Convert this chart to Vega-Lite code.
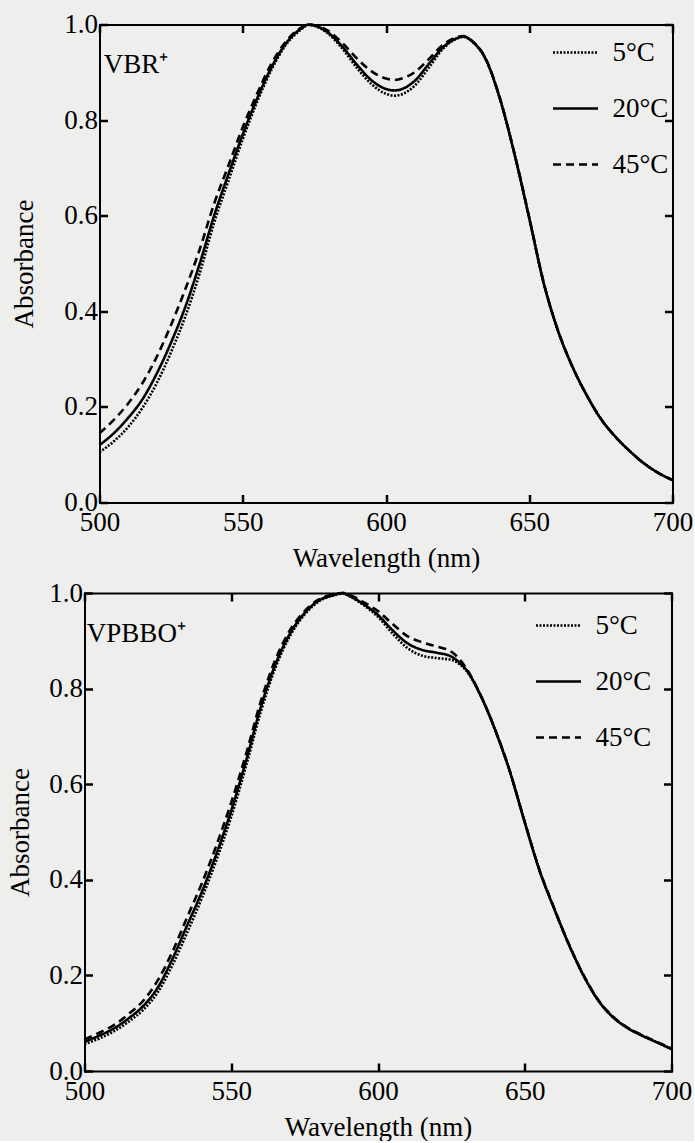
{
  "$schema": "https://vega.github.io/schema/vega-lite/v6.json",
  "background": "#eeeeec",
  "padding": {"left": 6.5, "top": 10.5, "right": 0, "bottom": 0},
  "spacing": 7.5,
  "config": {
    "view": {"stroke": null},
    "axis": {
      "labelFont": "Liberation Serif", "titleFont": "Liberation Serif",
      "labelFontSize": 27, "titleFontSize": 27, "titleFontWeight": "normal",
      "labelColor": "black", "titleColor": "black",
      "tickColor": "black", "tickWidth": 2.5, "tickSize": -8,
      "domain": true, "domainColor": "black", "domainWidth": 2, "domainCap": "square",
      "grid": false, "labelFlush": false, "labelOverlap": false
    },
    "legend": {
      "labelFont": "Liberation Serif", "labelFontSize": 27, "labelColor": "black",
      "symbolType": "stroke", "symbolSize": 2025, "symbolStrokeWidth": 2.5,
      "symbolStrokeColor": "black", "rowPadding": 19, "labelOffset": 13, "padding": 0
    }
  },
  "datasets": {
    "vbrLabel": [{"label": "VBR⁺", "wl": 501.5, "abs": 0.899}],
    "vpbboLabel": [{"label": "VPBBO⁺", "wl": 500.8, "abs": 0.897}],
    "vbr": [
      {"temp": "5°C", "wl": 500, "abs": 0.105}, {"temp": "5°C", "wl": 505, "abs": 0.128}, {"temp": "5°C", "wl": 510, "abs": 0.158}, {"temp": "5°C", "wl": 515, "abs": 0.198}, {"temp": "5°C", "wl": 520, "abs": 0.25}, {"temp": "5°C", "wl": 525, "abs": 0.315}, {"temp": "5°C", "wl": 530, "abs": 0.39}, {"temp": "5°C", "wl": 535, "abs": 0.48}, {"temp": "5°C", "wl": 540, "abs": 0.585}, {"temp": "5°C", "wl": 545, "abs": 0.673}, {"temp": "5°C", "wl": 550, "abs": 0.76}, {"temp": "5°C", "wl": 555, "abs": 0.838}, {"temp": "5°C", "wl": 560, "abs": 0.905}, {"temp": "5°C", "wl": 565, "abs": 0.957}, {"temp": "5°C", "wl": 570, "abs": 0.988}, {"temp": "5°C", "wl": 573, "abs": 0.999}, {"temp": "5°C", "wl": 576, "abs": 0.995}, {"temp": "5°C", "wl": 580, "abs": 0.98}, {"temp": "5°C", "wl": 585, "abs": 0.948}, {"temp": "5°C", "wl": 590, "abs": 0.908}, {"temp": "5°C", "wl": 595, "abs": 0.875}, {"temp": "5°C", "wl": 600, "abs": 0.855}, {"temp": "5°C", "wl": 603, "abs": 0.851}, {"temp": "5°C", "wl": 606, "abs": 0.855}, {"temp": "5°C", "wl": 610, "abs": 0.872}, {"temp": "5°C", "wl": 615, "abs": 0.91}, {"temp": "5°C", "wl": 620, "abs": 0.95}, {"temp": "5°C", "wl": 625, "abs": 0.971}, {"temp": "5°C", "wl": 627, "abs": 0.974}, {"temp": "5°C", "wl": 630, "abs": 0.965}, {"temp": "5°C", "wl": 635, "abs": 0.925}, {"temp": "5°C", "wl": 640, "abs": 0.84}, {"temp": "5°C", "wl": 645, "abs": 0.725}, {"temp": "5°C", "wl": 650, "abs": 0.595}, {"temp": "5°C", "wl": 655, "abs": 0.46}, {"temp": "5°C", "wl": 660, "abs": 0.36}, {"temp": "5°C", "wl": 665, "abs": 0.285}, {"temp": "5°C", "wl": 670, "abs": 0.225}, {"temp": "5°C", "wl": 675, "abs": 0.175}, {"temp": "5°C", "wl": 680, "abs": 0.138}, {"temp": "5°C", "wl": 685, "abs": 0.108}, {"temp": "5°C", "wl": 690, "abs": 0.082}, {"temp": "5°C", "wl": 695, "abs": 0.062}, {"temp": "5°C", "wl": 700, "abs": 0.047},
      {"temp": "20°C", "wl": 500, "abs": 0.12}, {"temp": "20°C", "wl": 505, "abs": 0.145}, {"temp": "20°C", "wl": 510, "abs": 0.177}, {"temp": "20°C", "wl": 515, "abs": 0.216}, {"temp": "20°C", "wl": 520, "abs": 0.27}, {"temp": "20°C", "wl": 525, "abs": 0.335}, {"temp": "20°C", "wl": 530, "abs": 0.41}, {"temp": "20°C", "wl": 535, "abs": 0.5}, {"temp": "20°C", "wl": 540, "abs": 0.6}, {"temp": "20°C", "wl": 545, "abs": 0.687}, {"temp": "20°C", "wl": 550, "abs": 0.77}, {"temp": "20°C", "wl": 555, "abs": 0.845}, {"temp": "20°C", "wl": 560, "abs": 0.91}, {"temp": "20°C", "wl": 565, "abs": 0.96}, {"temp": "20°C", "wl": 570, "abs": 0.99}, {"temp": "20°C", "wl": 573, "abs": 1.0}, {"temp": "20°C", "wl": 576, "abs": 0.996}, {"temp": "20°C", "wl": 580, "abs": 0.982}, {"temp": "20°C", "wl": 585, "abs": 0.952}, {"temp": "20°C", "wl": 590, "abs": 0.915}, {"temp": "20°C", "wl": 595, "abs": 0.883}, {"temp": "20°C", "wl": 600, "abs": 0.865}, {"temp": "20°C", "wl": 603, "abs": 0.862}, {"temp": "20°C", "wl": 606, "abs": 0.866}, {"temp": "20°C", "wl": 610, "abs": 0.882}, {"temp": "20°C", "wl": 615, "abs": 0.918}, {"temp": "20°C", "wl": 620, "abs": 0.953}, {"temp": "20°C", "wl": 625, "abs": 0.972}, {"temp": "20°C", "wl": 627, "abs": 0.975}, {"temp": "20°C", "wl": 630, "abs": 0.965}, {"temp": "20°C", "wl": 635, "abs": 0.925}, {"temp": "20°C", "wl": 640, "abs": 0.84}, {"temp": "20°C", "wl": 645, "abs": 0.725}, {"temp": "20°C", "wl": 650, "abs": 0.595}, {"temp": "20°C", "wl": 655, "abs": 0.46}, {"temp": "20°C", "wl": 660, "abs": 0.36}, {"temp": "20°C", "wl": 665, "abs": 0.285}, {"temp": "20°C", "wl": 670, "abs": 0.225}, {"temp": "20°C", "wl": 675, "abs": 0.175}, {"temp": "20°C", "wl": 680, "abs": 0.138}, {"temp": "20°C", "wl": 685, "abs": 0.108}, {"temp": "20°C", "wl": 690, "abs": 0.082}, {"temp": "20°C", "wl": 695, "abs": 0.062}, {"temp": "20°C", "wl": 700, "abs": 0.047},
      {"temp": "45°C", "wl": 500, "abs": 0.145}, {"temp": "45°C", "wl": 505, "abs": 0.173}, {"temp": "45°C", "wl": 510, "abs": 0.207}, {"temp": "45°C", "wl": 515, "abs": 0.25}, {"temp": "45°C", "wl": 520, "abs": 0.305}, {"temp": "45°C", "wl": 525, "abs": 0.372}, {"temp": "45°C", "wl": 530, "abs": 0.447}, {"temp": "45°C", "wl": 535, "abs": 0.53}, {"temp": "45°C", "wl": 540, "abs": 0.625}, {"temp": "45°C", "wl": 545, "abs": 0.705}, {"temp": "45°C", "wl": 550, "abs": 0.785}, {"temp": "45°C", "wl": 555, "abs": 0.855}, {"temp": "45°C", "wl": 560, "abs": 0.918}, {"temp": "45°C", "wl": 565, "abs": 0.964}, {"temp": "45°C", "wl": 570, "abs": 0.992}, {"temp": "45°C", "wl": 573, "abs": 1.0}, {"temp": "45°C", "wl": 576, "abs": 0.997}, {"temp": "45°C", "wl": 580, "abs": 0.986}, {"temp": "45°C", "wl": 585, "abs": 0.96}, {"temp": "45°C", "wl": 590, "abs": 0.928}, {"temp": "45°C", "wl": 595, "abs": 0.902}, {"temp": "45°C", "wl": 600, "abs": 0.887}, {"temp": "45°C", "wl": 603, "abs": 0.884}, {"temp": "45°C", "wl": 606, "abs": 0.888}, {"temp": "45°C", "wl": 610, "abs": 0.9}, {"temp": "45°C", "wl": 615, "abs": 0.928}, {"temp": "45°C", "wl": 620, "abs": 0.958}, {"temp": "45°C", "wl": 625, "abs": 0.974}, {"temp": "45°C", "wl": 627, "abs": 0.976}, {"temp": "45°C", "wl": 630, "abs": 0.966}, {"temp": "45°C", "wl": 635, "abs": 0.926}, {"temp": "45°C", "wl": 640, "abs": 0.841}, {"temp": "45°C", "wl": 645, "abs": 0.726}, {"temp": "45°C", "wl": 650, "abs": 0.596}, {"temp": "45°C", "wl": 655, "abs": 0.461}, {"temp": "45°C", "wl": 660, "abs": 0.36}, {"temp": "45°C", "wl": 665, "abs": 0.285}, {"temp": "45°C", "wl": 670, "abs": 0.225}, {"temp": "45°C", "wl": 675, "abs": 0.175}, {"temp": "45°C", "wl": 680, "abs": 0.138}, {"temp": "45°C", "wl": 685, "abs": 0.108}, {"temp": "45°C", "wl": 690, "abs": 0.082}, {"temp": "45°C", "wl": 695, "abs": 0.062}, {"temp": "45°C", "wl": 700, "abs": 0.047}
    ],
    "vpbbo": [
      {"temp": "5°C", "wl": 500, "abs": 0.056}, {"temp": "5°C", "wl": 505, "abs": 0.068}, {"temp": "5°C", "wl": 510, "abs": 0.083}, {"temp": "5°C", "wl": 515, "abs": 0.103}, {"temp": "5°C", "wl": 520, "abs": 0.128}, {"temp": "5°C", "wl": 525, "abs": 0.165}, {"temp": "5°C", "wl": 530, "abs": 0.222}, {"temp": "5°C", "wl": 535, "abs": 0.29}, {"temp": "5°C", "wl": 540, "abs": 0.362}, {"temp": "5°C", "wl": 545, "abs": 0.442}, {"temp": "5°C", "wl": 550, "abs": 0.532}, {"temp": "5°C", "wl": 555, "abs": 0.637}, {"temp": "5°C", "wl": 560, "abs": 0.75}, {"temp": "5°C", "wl": 565, "abs": 0.843}, {"temp": "5°C", "wl": 570, "abs": 0.91}, {"temp": "5°C", "wl": 575, "abs": 0.955}, {"temp": "5°C", "wl": 580, "abs": 0.983}, {"temp": "5°C", "wl": 585, "abs": 0.995}, {"temp": "5°C", "wl": 588, "abs": 0.999}, {"temp": "5°C", "wl": 590, "abs": 0.994}, {"temp": "5°C", "wl": 595, "abs": 0.975}, {"temp": "5°C", "wl": 600, "abs": 0.95}, {"temp": "5°C", "wl": 605, "abs": 0.915}, {"temp": "5°C", "wl": 610, "abs": 0.885}, {"temp": "5°C", "wl": 615, "abs": 0.869}, {"temp": "5°C", "wl": 620, "abs": 0.864}, {"temp": "5°C", "wl": 625, "abs": 0.86}, {"temp": "5°C", "wl": 628, "abs": 0.85}, {"temp": "5°C", "wl": 630, "abs": 0.838}, {"temp": "5°C", "wl": 635, "abs": 0.785}, {"temp": "5°C", "wl": 640, "abs": 0.712}, {"temp": "5°C", "wl": 645, "abs": 0.625}, {"temp": "5°C", "wl": 650, "abs": 0.52}, {"temp": "5°C", "wl": 655, "abs": 0.42}, {"temp": "5°C", "wl": 660, "abs": 0.34}, {"temp": "5°C", "wl": 665, "abs": 0.265}, {"temp": "5°C", "wl": 670, "abs": 0.2}, {"temp": "5°C", "wl": 675, "abs": 0.148}, {"temp": "5°C", "wl": 680, "abs": 0.113}, {"temp": "5°C", "wl": 685, "abs": 0.09}, {"temp": "5°C", "wl": 690, "abs": 0.074}, {"temp": "5°C", "wl": 695, "abs": 0.06}, {"temp": "5°C", "wl": 700, "abs": 0.046},
      {"temp": "20°C", "wl": 500, "abs": 0.061}, {"temp": "20°C", "wl": 505, "abs": 0.074}, {"temp": "20°C", "wl": 510, "abs": 0.089}, {"temp": "20°C", "wl": 515, "abs": 0.11}, {"temp": "20°C", "wl": 520, "abs": 0.136}, {"temp": "20°C", "wl": 525, "abs": 0.175}, {"temp": "20°C", "wl": 530, "abs": 0.235}, {"temp": "20°C", "wl": 535, "abs": 0.305}, {"temp": "20°C", "wl": 540, "abs": 0.375}, {"temp": "20°C", "wl": 545, "abs": 0.455}, {"temp": "20°C", "wl": 550, "abs": 0.545}, {"temp": "20°C", "wl": 555, "abs": 0.648}, {"temp": "20°C", "wl": 560, "abs": 0.76}, {"temp": "20°C", "wl": 565, "abs": 0.85}, {"temp": "20°C", "wl": 570, "abs": 0.915}, {"temp": "20°C", "wl": 575, "abs": 0.958}, {"temp": "20°C", "wl": 580, "abs": 0.985}, {"temp": "20°C", "wl": 585, "abs": 0.996}, {"temp": "20°C", "wl": 588, "abs": 1.0}, {"temp": "20°C", "wl": 590, "abs": 0.995}, {"temp": "20°C", "wl": 595, "abs": 0.977}, {"temp": "20°C", "wl": 600, "abs": 0.954}, {"temp": "20°C", "wl": 605, "abs": 0.922}, {"temp": "20°C", "wl": 610, "abs": 0.895}, {"temp": "20°C", "wl": 615, "abs": 0.881}, {"temp": "20°C", "wl": 620, "abs": 0.875}, {"temp": "20°C", "wl": 625, "abs": 0.867}, {"temp": "20°C", "wl": 628, "abs": 0.853}, {"temp": "20°C", "wl": 630, "abs": 0.84}, {"temp": "20°C", "wl": 635, "abs": 0.785}, {"temp": "20°C", "wl": 640, "abs": 0.712}, {"temp": "20°C", "wl": 645, "abs": 0.625}, {"temp": "20°C", "wl": 650, "abs": 0.52}, {"temp": "20°C", "wl": 655, "abs": 0.42}, {"temp": "20°C", "wl": 660, "abs": 0.34}, {"temp": "20°C", "wl": 665, "abs": 0.265}, {"temp": "20°C", "wl": 670, "abs": 0.2}, {"temp": "20°C", "wl": 675, "abs": 0.148}, {"temp": "20°C", "wl": 680, "abs": 0.113}, {"temp": "20°C", "wl": 685, "abs": 0.09}, {"temp": "20°C", "wl": 690, "abs": 0.074}, {"temp": "20°C", "wl": 695, "abs": 0.06}, {"temp": "20°C", "wl": 700, "abs": 0.046},
      {"temp": "45°C", "wl": 500, "abs": 0.066}, {"temp": "45°C", "wl": 505, "abs": 0.08}, {"temp": "45°C", "wl": 510, "abs": 0.096}, {"temp": "45°C", "wl": 515, "abs": 0.119}, {"temp": "45°C", "wl": 520, "abs": 0.147}, {"temp": "45°C", "wl": 525, "abs": 0.19}, {"temp": "45°C", "wl": 530, "abs": 0.25}, {"temp": "45°C", "wl": 535, "abs": 0.322}, {"temp": "45°C", "wl": 540, "abs": 0.393}, {"temp": "45°C", "wl": 545, "abs": 0.473}, {"temp": "45°C", "wl": 550, "abs": 0.562}, {"temp": "45°C", "wl": 555, "abs": 0.662}, {"temp": "45°C", "wl": 560, "abs": 0.772}, {"temp": "45°C", "wl": 565, "abs": 0.86}, {"temp": "45°C", "wl": 570, "abs": 0.922}, {"temp": "45°C", "wl": 575, "abs": 0.962}, {"temp": "45°C", "wl": 580, "abs": 0.987}, {"temp": "45°C", "wl": 585, "abs": 0.997}, {"temp": "45°C", "wl": 588, "abs": 1.0}, {"temp": "45°C", "wl": 590, "abs": 0.997}, {"temp": "45°C", "wl": 595, "abs": 0.981}, {"temp": "45°C", "wl": 600, "abs": 0.962}, {"temp": "45°C", "wl": 605, "abs": 0.935}, {"temp": "45°C", "wl": 610, "abs": 0.91}, {"temp": "45°C", "wl": 615, "abs": 0.897}, {"temp": "45°C", "wl": 620, "abs": 0.888}, {"temp": "45°C", "wl": 625, "abs": 0.877}, {"temp": "45°C", "wl": 628, "abs": 0.86}, {"temp": "45°C", "wl": 630, "abs": 0.843}, {"temp": "45°C", "wl": 635, "abs": 0.786}, {"temp": "45°C", "wl": 640, "abs": 0.713}, {"temp": "45°C", "wl": 645, "abs": 0.626}, {"temp": "45°C", "wl": 650, "abs": 0.521}, {"temp": "45°C", "wl": 655, "abs": 0.421}, {"temp": "45°C", "wl": 660, "abs": 0.341}, {"temp": "45°C", "wl": 665, "abs": 0.266}, {"temp": "45°C", "wl": 670, "abs": 0.201}, {"temp": "45°C", "wl": 675, "abs": 0.149}, {"temp": "45°C", "wl": 680, "abs": 0.114}, {"temp": "45°C", "wl": 685, "abs": 0.091}, {"temp": "45°C", "wl": 690, "abs": 0.075}, {"temp": "45°C", "wl": 695, "abs": 0.061}, {"temp": "45°C", "wl": 700, "abs": 0.047}
    ]
  },
  "resolve": {"scale": {"strokeDash": "independent"}, "legend": {"strokeDash": "independent"}},
  "vconcat": [
    {
      "width": 588, "height": 478,
      "resolve": {"axis": {"x": "independent", "y": "independent"}},
      "layer": [
        {
          "data": {"name": "vbr"},
          "mark": {"type": "line", "color": "black", "strokeWidth": 2.6, "interpolate": "monotone"},
          "encoding": {
            "x": {"field": "wl", "type": "quantitative", "scale": {"domain": [500, 700], "range": [15, 588], "nice": false, "zero": false},
                  "axis": {"orient": "bottom", "values": [500, 550, 600, 650, 700], "format": "d", "title": "Wavelength (nm)", "labelPadding": 15, "titlePadding": 10}},
            "y": {"field": "abs", "type": "quantitative", "scale": {"domain": [0, 1], "nice": false, "zero": false},
                  "axis": {"orient": "left", "offset": -15, "values": [0, 0.2, 0.4, 0.6, 0.8, 1.0], "format": ".1f", "title": "Absorbance", "labelPadding": 10, "titlePadding": 25}},
            "strokeDash": {"field": "temp", "type": "nominal",
                  "scale": {"domain": ["5°C", "20°C", "45°C"], "range": [[2, 1.5], [1, 0], [8, 5]]},
                  "legend": {"title": null, "orient": "none", "legendX": 467, "legendY": 4}}
          }
        },
        {
          "data": {"name": "vbrLabel"},
          "mark": {"type": "text", "font": "Liberation Serif", "fontSize": 27, "align": "left", "baseline": "alphabetic", "color": "black"},
          "encoding": {
            "x": {"field": "wl", "type": "quantitative", "scale": {"domain": [500, 700], "range": [15, 588], "nice": false, "zero": false},
                  "axis": {"orient": "top", "values": [500, 550, 600, 650, 700], "labels": false, "title": null}},
            "y": {"field": "abs", "type": "quantitative", "scale": {"domain": [0, 1], "nice": false, "zero": false},
                  "axis": {"orient": "right", "values": [0, 0.2, 0.4, 0.6, 0.8, 1.0], "labels": false, "title": null}},
            "text": {"field": "label"}
          }
        }
      ]
    },
    {
      "width": 587, "height": 478,
      "resolve": {"axis": {"x": "independent", "y": "independent"}},
      "layer": [
        {
          "data": {"name": "vpbbo"},
          "mark": {"type": "line", "color": "black", "strokeWidth": 2.6, "interpolate": "monotone"},
          "encoding": {
            "x": {"field": "wl", "type": "quantitative", "scale": {"domain": [500, 700], "nice": false, "zero": false},
                  "axis": {"orient": "bottom", "values": [500, 550, 600, 650, 700], "format": "d", "title": "Wavelength (nm)", "labelPadding": 15, "titlePadding": 10}},
            "y": {"field": "abs", "type": "quantitative", "scale": {"domain": [0, 1], "nice": false, "zero": false},
                  "axis": {"orient": "left", "values": [0, 0.2, 0.4, 0.6, 0.8, 1.0], "format": ".1f", "title": "Absorbance", "labelPadding": 10, "titlePadding": 14}},
            "strokeDash": {"field": "temp", "type": "nominal",
                  "scale": {"domain": ["5°C", "20°C", "45°C"], "range": [[2, 1.5], [1, 0], [8, 5]]},
                  "legend": {"title": null, "orient": "none", "legendX": 450, "legendY": 8.5}}
          }
        },
        {
          "data": {"name": "vpbboLabel"},
          "mark": {"type": "text", "font": "Liberation Serif", "fontSize": 27, "align": "left", "baseline": "alphabetic", "color": "black"},
          "encoding": {
            "x": {"field": "wl", "type": "quantitative", "scale": {"domain": [500, 700], "nice": false, "zero": false},
                  "axis": {"orient": "top", "values": [500, 550, 600, 650, 700], "labels": false, "title": null}},
            "y": {"field": "abs", "type": "quantitative", "scale": {"domain": [0, 1], "nice": false, "zero": false},
                  "axis": {"orient": "right", "values": [0, 0.2, 0.4, 0.6, 0.8, 1.0], "labels": false, "title": null}},
            "text": {"field": "label"}
          }
        }
      ]
    }
  ]
}
